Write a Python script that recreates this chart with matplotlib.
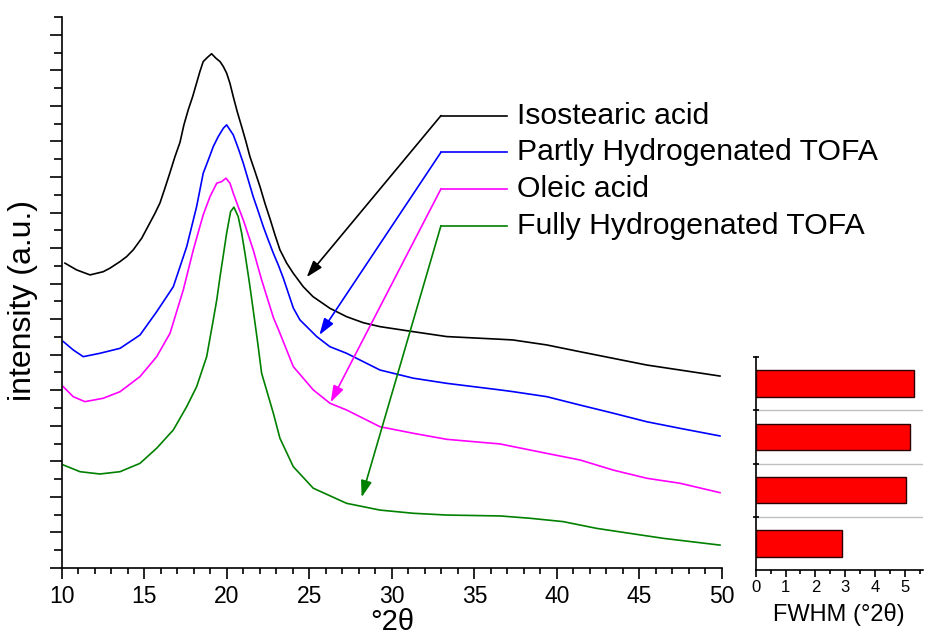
import matplotlib
matplotlib.use('Agg')
import matplotlib.pyplot as plt
from matplotlib.ticker import MultipleLocator, FixedLocator

plt.rcParams['font.family'] = ['Liberation Sans', 'DejaVu Sans']

# sample names, colours and FWHM values (inset)
samples = ['Isostearic acid', 'Partly Hydrogenated TOFA', 'Oleic acid', 'Fully Hydrogenated TOFA']
colors = ['black', 'blue', 'magenta', 'green']
fwhm = [5.31, 5.17, 5.03, 2.90]

# diffractograms (°2θ, offset intensity in a.u.)
iso_x = [10.18, 10.89, 11.70, 12.50, 12.91, 13.52, 13.92, 14.32, 14.83, 15.33, 15.64, 15.94, 16.24,
         16.55, 16.85, 17.15, 17.39, 17.65, 17.92, 18.16, 18.36, 18.56, 18.83, 19.07, 19.33, 19.58,
         19.78, 19.98, 20.18, 20.38, 20.62, 20.89, 21.15, 21.39, 21.70, 22.00, 22.30, 22.61, 22.91,
         23.21, 23.62, 24.02, 24.62, 25.21, 26.24, 27.25, 28.26, 29.27, 31.27, 33.32, 36.55, 37.33,
         39.38, 41.39, 43.39, 45.44, 47.45, 49.88]
iso_y = [17.15, 16.77, 16.49, 16.67, 16.87, 17.24, 17.52, 17.90, 18.55, 19.42, 19.96, 20.54, 21.37,
         22.26, 23.15, 23.94, 24.93, 25.77, 26.52, 27.29, 27.93, 28.49, 28.74, 28.93, 28.68, 28.49,
         28.21, 27.84, 27.27, 26.52, 25.68, 24.83, 23.99, 23.15, 22.30, 21.46, 20.52, 19.64, 18.74,
         17.90, 17.15, 16.58, 15.83, 15.27, 14.61, 14.14, 13.80, 13.58, 13.30, 13.02, 12.87, 12.83,
         12.55, 12.17, 11.80, 11.42, 11.14, 10.80]

part_x = [10.08, 10.68, 11.29, 12.30, 13.52, 14.73, 15.74, 16.75, 17.56, 18.16, 18.56, 18.87, 19.17,
          19.47, 19.78, 19.98, 20.38, 20.68, 20.99, 21.29, 21.59, 21.90, 22.20, 22.50, 22.81, 23.11,
          23.41, 24.02, 24.42, 25.44, 26.24, 27.25, 29.27, 31.29, 33.32, 36.55, 37.35, 39.38, 41.39,
          43.41, 45.44, 47.45, 49.88]
part_y = [12.74, 12.27, 11.89, 12.08, 12.36, 13.11, 14.42, 15.83, 18.08, 20.33, 22.21, 22.96, 23.71,
          24.27, 24.74, 24.93, 24.37, 23.62, 22.77, 21.83, 20.89, 20.05, 19.21, 18.46, 17.71, 17.05,
          16.32, 14.63, 13.96, 13.02, 12.45, 12.08, 11.14, 10.68, 10.39, 10.02, 9.92, 9.64, 9.17,
          8.71, 8.23, 7.86, 7.43]

ole_x = [10.08, 10.68, 11.39, 12.50, 13.52, 14.73, 15.74, 16.55, 17.35, 17.96, 18.56, 18.97, 19.38,
         19.68, 19.94, 20.18, 20.38, 20.68, 20.99, 21.29, 21.59, 21.90, 22.10, 22.81, 23.21, 24.02,
         25.23, 26.24, 27.25, 29.27, 31.29, 33.32, 36.55, 37.35, 39.38, 41.39, 43.41, 45.44, 47.45,
         49.88]
ole_y = [10.20, 9.64, 9.36, 9.55, 9.92, 10.77, 11.89, 13.21, 15.64, 17.90, 19.87, 20.89, 21.65,
         21.74, 21.93, 21.65, 21.09, 20.33, 19.58, 18.74, 17.90, 16.87, 16.21, 14.10, 13.21, 11.33,
         10.02, 9.27, 8.89, 7.95, 7.58, 7.24, 6.98, 6.83, 6.45, 6.08, 5.51, 5.05, 4.77,
         4.24]

full_x = [10.08, 11.09, 12.30, 13.52, 14.73, 15.74, 16.75, 17.56, 18.16, 18.77, 19.17, 19.38, 19.58,
          19.78, 19.98, 20.22, 20.42, 20.68, 20.89, 21.09, 21.35, 21.59, 21.84, 22.10, 22.81, 23.21,
          24.02, 25.23, 27.25, 29.27, 31.29, 33.32, 36.55, 38.36, 40.38, 42.41, 44.42, 46.45, 49.88]
full_y = [5.80, 5.42, 5.29, 5.42, 5.89, 6.74, 7.77, 9.08, 10.20, 11.89, 13.96, 15.08, 16.39,
          17.61, 18.84, 20.05, 20.30, 19.77, 18.84, 17.71, 16.11, 14.52, 12.83, 10.96, 8.71, 7.30,
          5.70, 4.49, 3.64, 3.26, 3.08, 2.98, 2.93, 2.80, 2.61, 2.23, 1.95, 1.67, 1.29]

curves_x = [iso_x, part_x, ole_x, full_x]
curves_y = [iso_y, part_y, ole_y, full_y]

fig = plt.figure(figsize=(9.25, 6.43), dpi=100)
ax = fig.add_axes([0.067, 0.1166, 0.7135, 0.857])

for cx, cy, c in zip(curves_x, curves_y, colors):
    ax.plot(cx, cy, color=c, lw=1.2)

ax.set_xlim(10, 50)
ax.set_ylim(0, 31)
ax.spines['top'].set_visible(False)
ax.spines['right'].set_visible(False)
ax.spines['left'].set_linewidth(1.2)
ax.spines['bottom'].set_linewidth(1.2)
ax.xaxis.set_major_locator(MultipleLocator(5))
ax.xaxis.set_minor_locator(MultipleLocator(1))
ax.yaxis.set_major_locator(MultipleLocator(2))
ax.yaxis.set_minor_locator(MultipleLocator(1))
ax.tick_params(axis='x', which='major', direction='out', length=8, width=1.2, labelsize=16.5, pad=4)
ax.tick_params(axis='x', which='minor', direction='out', length=4, width=1.2)
ax.tick_params(axis='y', which='major', direction='out', length=9, width=1.2, labelleft=False)
ax.tick_params(axis='y', which='minor', direction='out', length=5.5, width=1.2)
ax.set_xlabel('°2θ', fontsize=21, labelpad=0)
ax.set_ylabel('intensity (a.u.)', fontsize=23)
ax.yaxis.set_label_coords(-0.037, 0.485)

# label lines with arrows pointing to each curve
lab_y = [25.45, 23.39, 21.33, 19.26]
tips = [(24.83, 16.36), (25.60, 13.11), (26.28, 9.32), (28.16, 3.98)]
for name, c, ly, tip in zip(samples, colors, lab_y, tips):
    ax.plot([32.97, 36.95], [ly, ly], color=c, lw=1.2, clip_on=False)
    ax.annotate('', xy=tip, xytext=(32.97, ly),
                arrowprops=dict(arrowstyle='-|>,head_length=1.0,head_width=0.33',
                                mutation_scale=10, color=c, lw=1.2,
                                shrinkA=0, shrinkB=0))
    ax.text(37.58, ly, name, fontsize=21.7, va='center', ha='left')

# inset: FWHM bars
ax2 = fig.add_axes([0.817, 0.1135, 0.1804, 0.3313])
pos = [3, 2, 1, 0]
ax2.barh(pos, fwhm, height=0.5, color='#ff0000', edgecolor='#2a0000', lw=1.0, zorder=3)
ax2.set_xlim(0, 5.6)
ax2.set_ylim(-0.5, 3.5)
for b in [0.5, 1.5, 2.5]:
    ax2.axhline(b, color='#c0c0c0', lw=1.0, zorder=1)
ax2.spines['top'].set_visible(False)
ax2.spines['right'].set_visible(False)
ax2.spines['left'].set_linewidth(1.2)
ax2.spines['bottom'].set_linewidth(1.2)
ax2.xaxis.set_major_locator(MultipleLocator(1))
ax2.xaxis.set_minor_locator(MultipleLocator(0.5))
ax2.yaxis.set_major_locator(FixedLocator([0.5, 1.5, 2.5, 3.5]))
ax2.yaxis.set_minor_locator(FixedLocator([0, 1, 2, 3]))
ax2.tick_params(axis='x', which='major', direction='out', length=5, width=1.2, labelsize=12, pad=2)
ax2.tick_params(axis='x', which='minor', direction='out', length=3, width=1.2)
ax2.tick_params(axis='y', which='major', direction='inout', length=5, width=1.2, labelleft=False)
ax2.tick_params(axis='y', which='minor', direction='in', length=2, width=1.0)
ax2.set_xlabel('FWHM (°2θ)', fontsize=17, labelpad=6)

plt.savefig('out.png', dpi=100)
